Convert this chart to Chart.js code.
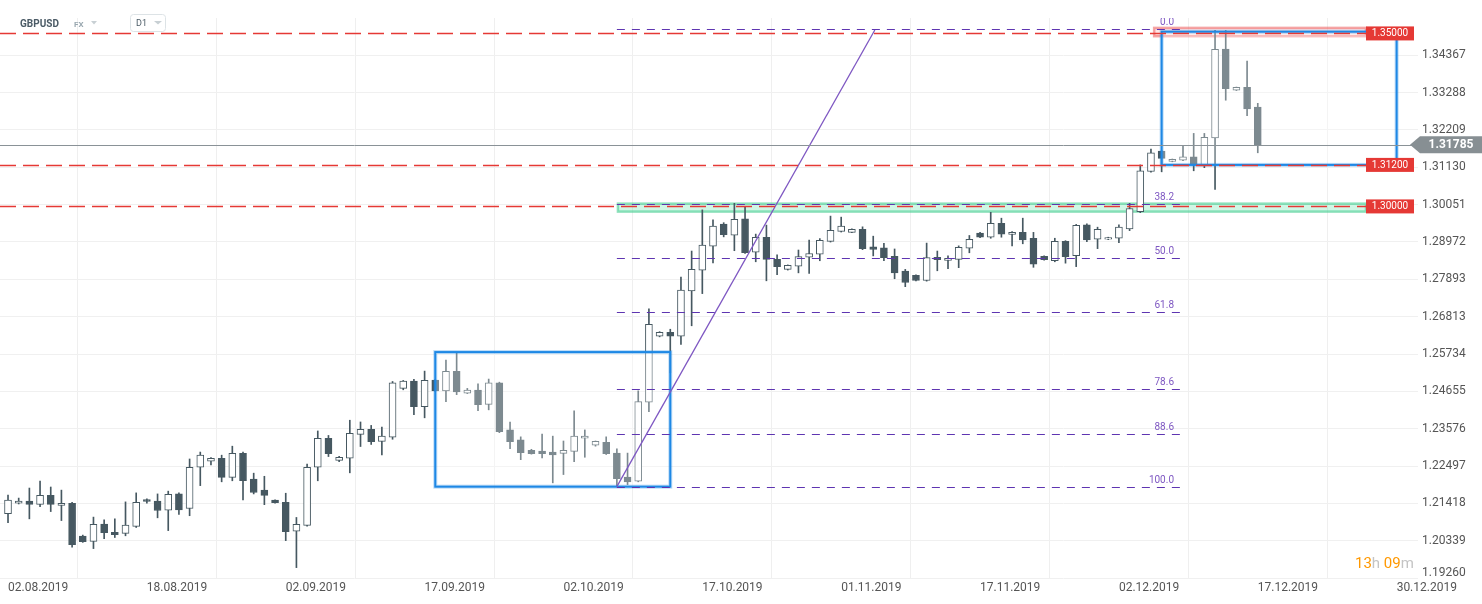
<!DOCTYPE html>
<html>
<head>
<meta charset="utf-8">
<script src="https://cdn.jsdelivr.net/npm/chart.js@4"></script>
<style>
  html, body { margin: 0; padding: 0; background: #fff; }
  #wrap { width: 1482px; height: 604px; }
</style>
</head>
<body>
<div id="wrap"><canvas id="gbpChart" width="1482" height="604"></canvas></div>
<script>
// GBPUSD D1, 02.08.2019 - 17.12.2019 (sunday sessions are their own candle)
const opens = [
  1.2112, 1.2142, 1.2148, 1.2139, 1.2165, 1.2136, 1.2142, 1.2047, 1.2032, 1.2082,
  1.2058, 1.2055, 1.2075, 1.2153, 1.2148, 1.2122, 1.2169, 1.2127, 1.2246, 1.2264,
  1.2272, 1.2217, 1.2286, 1.2212, 1.2180, 1.2151, 1.2145, 1.2061, 1.2078, 1.2246,
  1.2330, 1.2266, 1.2272, 1.2341, 1.2356, 1.2321, 1.2333, 1.2474, 1.2495, 1.2421,
  1.2498, 1.2467, 1.2523, 1.2460, 1.2469, 1.2428, 1.2490, 1.2354, 1.2325, 1.2295,
  1.2293, 1.2290, 1.2286, 1.2292, 1.2330, 1.2310, 1.2318, 1.2287, 1.2218, 1.2206,
  1.2434, 1.2625, 1.2636, 1.2625, 1.2756, 1.2816, 1.2885, 1.2949, 1.2917, 1.2964,
  1.2868, 1.2911, 1.2847, 1.2818, 1.2827, 1.2853, 1.2862, 1.2899, 1.2928, 1.2925,
  1.2934, 1.2883, 1.2880, 1.2856, 1.2813, 1.2801, 1.2786, 1.2853, 1.2844, 1.2847,
  1.2879, 1.2923, 1.2911, 1.2951, 1.2919, 1.2925, 1.2908, 1.2856, 1.2843, 1.2899,
  1.2858, 1.2947, 1.2905, 1.2905, 1.2908, 1.2935, 1.2985, 1.3101, 1.3160, 1.3130,
  1.3134, 1.3143, 1.3118, 1.3198, 1.3455, 1.3336, 1.3344, 1.3287
];
const highs = [
  1.2166, 1.2157, 1.2186, 1.2206, 1.2189, 1.2180, 1.2145, 1.2050, 1.2102, 1.2094,
  1.2097, 1.2146, 1.2172, 1.2155, 1.2169, 1.2177, 1.2172, 1.2270, 1.2290, 1.2274,
  1.2281, 1.2307, 1.2290, 1.2229, 1.2220, 1.2152, 1.2171, 1.2101, 1.2255, 1.2351,
  1.2338, 1.2278, 1.2382, 1.2377, 1.2367, 1.2362, 1.2494, 1.2497, 1.2500, 1.2524,
  1.2500, 1.2556, 1.2577, 1.2474, 1.2487, 1.2501, 1.2492, 1.2377, 1.2334, 1.2298,
  1.2342, 1.2336, 1.2322, 1.2409, 1.2354, 1.2322, 1.2334, 1.2299, 1.2287, 1.2467,
  1.2704, 1.2638, 1.2645, 1.2796, 1.2871, 1.2990, 1.2961, 1.2953, 1.3009, 1.2999,
  1.2920, 1.2946, 1.2860, 1.2831, 1.2874, 1.2903, 1.2907, 1.2972, 1.2969, 1.2935,
  1.2941, 1.2914, 1.2893, 1.2877, 1.2818, 1.2802, 1.2894, 1.2871, 1.2857, 1.2886,
  1.2916, 1.2925, 1.2983, 1.2966, 1.2927, 1.2966, 1.2925, 1.2857, 1.2908, 1.2901,
  1.2948, 1.2950, 1.2940, 1.2911, 1.2947, 1.3009, 1.3120, 1.3166, 1.3162, 1.3137,
  1.3175, 1.3211, 1.3211, 1.3508, 1.3508, 1.3345, 1.3420, 1.3298
];
const lows = [
  1.2086, 1.2140, 1.2097, 1.2132, 1.2118, 1.2092, 1.2015, 1.2029, 1.2011, 1.2040,
  1.2043, 1.2048, 1.2072, 1.2142, 1.2100, 1.2063, 1.2110, 1.2106, 1.2193, 1.2253,
  1.2204, 1.2207, 1.2152, 1.2169, 1.2138, 1.2142, 1.2034, 1.1956, 1.2076, 1.2207,
  1.2277, 1.2262, 1.2230, 1.2306, 1.2312, 1.2282, 1.2327, 1.2470, 1.2398, 1.2389,
  1.2465, 1.2436, 1.2456, 1.2459, 1.2410, 1.2412, 1.2346, 1.2300, 1.2268, 1.2284,
  1.2273, 1.2201, 1.2225, 1.2262, 1.2275, 1.2307, 1.2283, 1.2190, 1.2196, 1.2204,
  1.2407, 1.2623, 1.2519, 1.2601, 1.2655, 1.2748, 1.2837, 1.2912, 1.2872, 1.2864,
  1.2840, 1.2785, 1.2803, 1.2816, 1.2808, 1.2806, 1.2843, 1.2897, 1.2926, 1.2924,
  1.2875, 1.2857, 1.2843, 1.2791, 1.2768, 1.2785, 1.2784, 1.2814, 1.2820, 1.2823,
  1.2866, 1.2910, 1.2908, 1.2911, 1.2886, 1.2892, 1.2824, 1.2845, 1.2840, 1.2836,
  1.2826, 1.2898, 1.2878, 1.2904, 1.2895, 1.2930, 1.2982, 1.3099, 1.3100, 1.3129,
  1.3132, 1.3103, 1.3112, 1.3049, 1.3307, 1.3335, 1.3262, 1.3155
];
const closes = [
  1.2151, 1.2148, 1.2139, 1.2165, 1.2139, 1.2142, 1.2022, 1.2031, 1.2081, 1.2057,
  1.2051, 1.2079, 1.2145, 1.2147, 1.2121, 1.2168, 1.2123, 1.2246, 1.2281, 1.2272,
  1.2217, 1.2286, 1.2207, 1.2173, 1.2165, 1.2144, 1.2060, 1.2081, 1.2246, 1.2330,
  1.2285, 1.2275, 1.2344, 1.2356, 1.2320, 1.2336, 1.2490, 1.2495, 1.2421, 1.2497,
  1.2467, 1.2523, 1.2464, 1.2469, 1.2427, 1.2490, 1.2349, 1.2320, 1.2288, 1.2285,
  1.2285, 1.2282, 1.2295, 1.2336, 1.2336, 1.2321, 1.2285, 1.2213, 1.2204, 1.2436,
  1.2659, 1.2636, 1.2625, 1.2758, 1.2818, 1.2888, 1.2943, 1.2918, 1.2963, 1.2866,
  1.2911, 1.2847, 1.2826, 1.2830, 1.2855, 1.2864, 1.2902, 1.2931, 1.2943, 1.2934,
  1.2878, 1.2876, 1.2852, 1.2808, 1.2780, 1.2786, 1.2852, 1.2846, 1.2850, 1.2882,
  1.2905, 1.2911, 1.2951, 1.2920, 1.2925, 1.2903, 1.2833, 1.2846, 1.2899, 1.2855,
  1.2945, 1.2903, 1.2934, 1.2910, 1.2940, 1.2994, 1.3103, 1.3155, 1.3139, 1.3136,
  1.3143, 1.3121, 1.3200, 1.3454, 1.3340, 1.3344, 1.3282, 1.31785
];

// axis ticks
const dateTicks = [0, 13, 26, 39, 52, 65, 78, 91, 104, 117, 130];
const dateLabels = ['02.08.2019', '18.08.2019', '02.09.2019', '17.09.2019', '02.10.2019',
  '17.10.2019', '01.11.2019', '17.11.2019', '02.12.2019', '17.12.2019', '30.12.2019'];
const priceTicks = [1.19260, 1.20339, 1.21418, 1.22497, 1.23576, 1.24655, 1.25734, 1.26813,
  1.27893, 1.28972, 1.30051, 1.31130, 1.32209, 1.33288, 1.34367];

// drawings on the chart
const redLevels = [1.35, 1.312, 1.30];
const fibLevels = [0, 38.2, 50, 61.8, 78.6, 88.6, 100];
const fibHigh = 1.3513;
const fibLow = 1.2190;
const fibRange = [57, 110];
const trendLine = [[57, 1.2190], [81.15, 1.3510]];
const boxes = [[40, 62, 1.2190, 1.2579], [108, 130, 1.3120, 1.3505]];
const greenZone = [57.1, 1.2985, 1.3008];
const redZone = [107.3, 1.3492, 1.3516];
const lastPrice = 1.31785;

const candleDark = '#465861';
Chart.defaults.font.family = 'Roboto';

const bodies = opens.map((o, i) => ({ x: i, y: [Math.min(o, closes[i]), Math.max(o, closes[i])] }));
const wicks = opens.map((o, i) => ({ x: i, y: [lows[i], highs[i]] }));
const bodyFill = opens.map((o, i) => closes[i] >= o ? '#ffffff' : candleDark);

function hline(ctx, x0, x1, yy) {
  ctx.beginPath();
  ctx.moveTo(x0, yy);
  ctx.lineTo(x1, yy);
  ctx.stroke();
}

function clipArea(ctx, a) {
  ctx.beginPath();
  ctx.rect(a.left, a.top, a.right - a.left, a.bottom - a.top);
  ctx.clip();
}

const drawings = {
  id: 'drawings',
  beforeDatasetsDraw(chart) {
    const { ctx, chartArea: a, scales: { x, y } } = chart;
    const labelLeft = a.right - 52;
    ctx.save();
    clipArea(ctx, a);
    [[greenZone, 'rgba(120, 230, 180, 0.35)', 'rgba(70, 205, 145, 0.6)'],
     [redZone, 'rgba(255, 200, 200, 0.45)', 'rgba(235, 80, 80, 0.5)']].forEach(([z, fill, line]) => {
      const x0 = x.getPixelForValue(z[0]);
      const y0 = y.getPixelForValue(z[2]);
      const y1 = y.getPixelForValue(z[1]);
      ctx.fillStyle = fill;
      ctx.fillRect(x0, y0, labelLeft - x0, y1 - y0);
      ctx.strokeStyle = line;
      ctx.lineWidth = 2.5;
      ctx.strokeRect(x0, y0, labelLeft - x0, y1 - y0);
    });
    ctx.restore();
  },
  afterDatasetsDraw(chart) {
    const { ctx, chartArea: a, scales: { x, y } } = chart;
    const labelLeft = a.right - 52;

    // rectangles
    ctx.save();
    clipArea(ctx, a);
    boxes.forEach(b => {
      const x0 = x.getPixelForValue(b[0]), x1 = x.getPixelForValue(b[1]);
      const y0 = y.getPixelForValue(b[3]), y1 = y.getPixelForValue(b[2]);
      ctx.fillStyle = 'rgba(255, 255, 255, 0.3)';
      ctx.fillRect(x0, y0, x1 - x0, y1 - y0);
      ctx.strokeStyle = 'rgba(30, 136, 229, 0.3)';
      ctx.lineWidth = 4;
      ctx.strokeRect(x0, y0, x1 - x0, y1 - y0);
      ctx.strokeStyle = '#1e88e5';
      ctx.lineWidth = 2;
      ctx.strokeRect(x0, y0, x1 - x0, y1 - y0);
    });
    ctx.restore();

    // fibonacci levels
    ctx.save();
    clipArea(ctx, a);
    const fx0 = x.getPixelForValue(fibRange[0]);
    const fx1 = x.getPixelForValue(fibRange[1]);
    ctx.setLineDash([8, 7]);
    ctx.lineWidth = 1.2;
    ctx.strokeStyle = '#5e35b1';
    ctx.fillStyle = '#7e57c2';
    ctx.font = '10px Roboto';
    ctx.textAlign = 'right';
    ctx.textBaseline = 'alphabetic';
    fibLevels.forEach(p => {
      const yy = Math.round(y.getPixelForValue(fibHigh - (fibHigh - fibLow) * p / 100)) + 0.5;
      hline(ctx, fx0, fx1, yy);
      ctx.fillText(p.toFixed(1), fx1 - 9, yy - 5);
    });
    ctx.restore();

    // trend line
    ctx.save();
    clipArea(ctx, a);
    ctx.strokeStyle = '#7e57c2';
    ctx.lineWidth = 1.3;
    ctx.beginPath();
    ctx.moveTo(x.getPixelForValue(trendLine[0][0]), y.getPixelForValue(trendLine[0][1]));
    ctx.lineTo(x.getPixelForValue(trendLine[1][0]), y.getPixelForValue(trendLine[1][1]));
    ctx.stroke();
    ctx.restore();

    // horizontal levels
    redLevels.forEach(v => {
      ctx.save();
      clipArea(ctx, a);
      ctx.setLineDash([16, 7]);
      ctx.strokeStyle = 'rgb(229, 57, 53)';
      ctx.lineWidth = 1.3;
      hline(ctx, a.left, labelLeft, Math.round(y.getPixelForValue(v)) + 0.5);
      ctx.restore();
    });

    // last price
    ctx.save();
    ctx.strokeStyle = '#8a9297';
    ctx.lineWidth = 1;
    hline(ctx, a.left, a.right, Math.round(y.getPixelForValue(lastPrice)) + 0.5);
    ctx.restore();
  },
  afterDraw(chart) {
    const { ctx, chartArea: a, scales: { y } } = chart;
    ctx.save();

    // level labels
    ctx.font = '10px Roboto';
    ctx.textAlign = 'center';
    ctx.textBaseline = 'middle';
    redLevels.forEach(v => {
      const yy = y.getPixelForValue(v);
      ctx.fillStyle = '#e53935';
      ctx.fillRect(a.right - 52, yy - 7, 48, 14);
      ctx.fillStyle = '#ffffff';
      ctx.fillText(v.toFixed(5), a.right - 28, yy + 0.5);
    });

    // last price tag
    const py = y.getPixelForValue(lastPrice);
    ctx.fillStyle = '#878f93';
    ctx.beginPath();
    ctx.moveTo(a.right - 8, py);
    ctx.lineTo(a.right + 2, py - 8.5);
    ctx.lineTo(chart.width, py - 8.5);
    ctx.lineTo(chart.width, py + 8.5);
    ctx.lineTo(a.right + 2, py + 8.5);
    ctx.closePath();
    ctx.fill();
    ctx.fillStyle = '#ffffff';
    ctx.font = 'bold 12px Roboto';
    ctx.fillText(lastPrice.toFixed(5), (a.right + 2 + chart.width) / 2, py + 0.5);

    // lowest price label sits just above the axis line
    ctx.textAlign = 'left';
    ctx.fillStyle = '#555555';
    ctx.font = '12px Roboto';
    ctx.fillText(priceTicks[0].toFixed(5), a.right + 4, y.getPixelForValue(priceTicks[0]) - 5);

    // header
    ctx.fillStyle = '#4b5b66';
    ctx.font = 'bold 10px Roboto';
    ctx.fillText('GBPUSD', 20, 24);
    ctx.fillStyle = '#9aa8b0';
    ctx.font = 'bold 8px Roboto';
    ctx.fillText('FX', 74, 24.5);
    ctx.fillStyle = '#c8d0d4';
    [[91, 97], [154, 162]].forEach(([l, r]) => {
      ctx.beginPath();
      ctx.moveTo(l, 21);
      ctx.lineTo(r, 21);
      ctx.lineTo((l + r) / 2, 24.5);
      ctx.closePath();
      ctx.fill();
    });
    ctx.strokeStyle = '#dde3e6';
    ctx.lineWidth = 1;
    ctx.beginPath();
    ctx.roundRect(130.5, 14.5, 35, 17, 3);
    ctx.stroke();
    ctx.fillStyle = '#4b5b66';
    ctx.font = '9px Roboto';
    ctx.fillText('D1', 136, 24);

    // candle timer
    ctx.font = '15px Roboto';
    ctx.textBaseline = 'alphabetic';
    let tx = 1355;
    [['13', '#ff9800'], ['h', '#c4c4c4'], [' 09', '#ff9800'], ['m', '#c4c4c4']].forEach(([t, c]) => {
      ctx.fillStyle = c;
      ctx.fillText(t, tx, 568);
      tx += ctx.measureText(t).width;
    });
    ctx.restore();
  }
};

new Chart(document.getElementById('gbpChart'), {
  type: 'bar',
  data: {
    datasets: [
      {
        label: 'body',
        data: bodies,
        backgroundColor: bodyFill,
        borderColor: candleDark,
        borderWidth: 1,
        borderSkipped: false,
        barThickness: 7,
        grouped: false,
        order: 0
      },
      {
        label: 'wick',
        data: wicks,
        backgroundColor: candleDark,
        barThickness: 1,
        grouped: false,
        order: 1
      }
    ]
  },
  options: {
    responsive: false,
    animation: false,
    layout: { padding: { top: 18, left: 0, right: 0, bottom: 0 } },
    plugins: { legend: { display: false }, tooltip: { enabled: false } },
    scales: {
      x: {
        type: 'linear',
        min: -0.75,
        max: 132,
        offset: false,
        afterBuildTicks: s => { s.ticks = dateTicks.map(v => ({ value: v })); },
        afterFit: s => { s.height = 26; },
        grid: { color: '#efefef', drawTicks: false },
        border: { display: false },
        ticks: {
          autoSkip: false,
          maxRotation: 0,
          align: 'start',
          padding: 3,
          color: '#555555',
          font: { size: 12 },
          callback: (v, i) => dateLabels[i]
        }
      },
      y: {
        position: 'right',
        min: 1.19260,
        max: 1.35446,
        afterBuildTicks: s => { s.ticks = priceTicks.map(v => ({ value: v })); },
        afterFit: s => { s.width = 64; },
        grid: { color: '#f0f0f0', drawTicks: false },
        border: { display: false },
        ticks: {
          padding: 4,
          color: '#555555',
          font: { size: 12 },
          callback: (v, i) => i === 0 ? '' : v.toFixed(5)
        }
      }
    }
  },
  plugins: [drawings]
});
</script>
</body>
</html>
